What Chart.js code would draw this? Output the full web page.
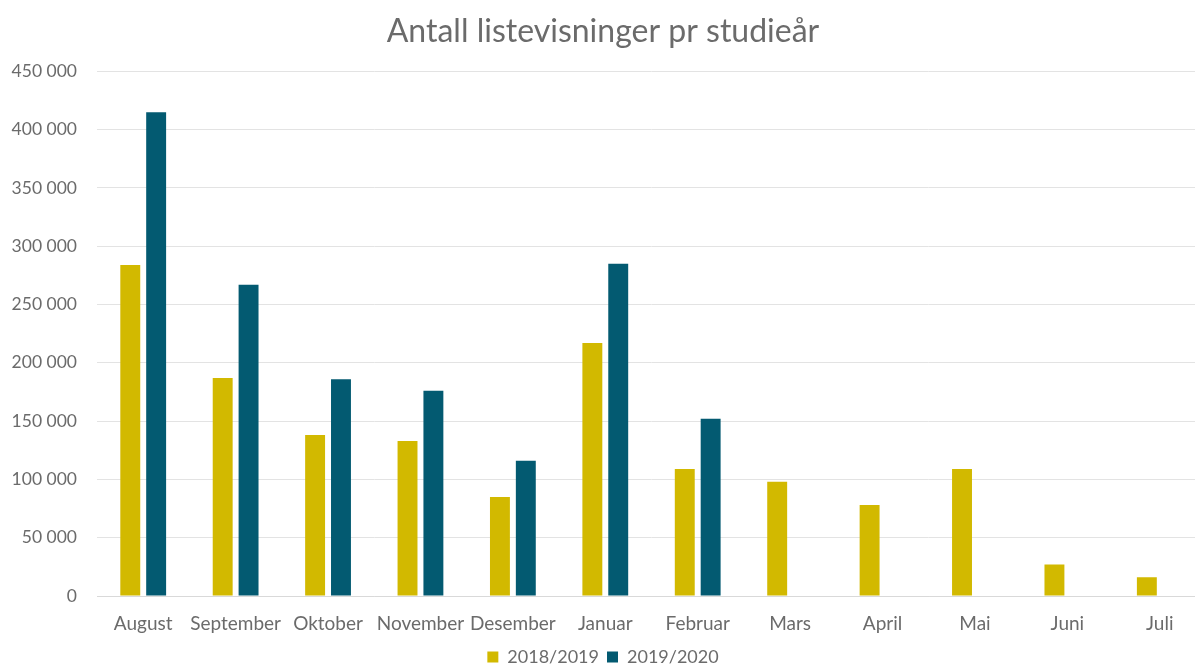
<!DOCTYPE html>
<html>
<head>
<meta charset="utf-8">
<script src="https://cdn.jsdelivr.net/npm/chart.js@4/dist/chart.umd.min.js"></script>
<style>
html,body{margin:0;padding:0;background:#fff;overflow:hidden;}
#wrap{width:1222px;height:676px;position:relative;}
</style>
</head>
<body>
<div id="wrap"><canvas id="c" width="1222" height="676"></canvas></div>
<script>
const categories = ["August","September","Oktober","November","Desember","Januar","Februar","Mars","April","Mai","Juni","Juli"];
const series2018 = [284000,187000,138000,133000,85000,217000,109000,98000,78000,109000,27000,16000];
const series2019 = [415000,267000,186000,176000,116000,285000,152000,null,null,null,null,null];
const seriesNames = ["2018/2019","2019/2020"];
const titleText = "Antall listevisninger pr studieår";

const fmt = v => String(v).replace(/\B(?=(\d{3})+(?!\d))/g, " ");
const FONT = "Lato, 'Open Sans', sans-serif";
const TXT = "#6b6b6b";

new Chart(document.getElementById("c"), {
  type: "bar",
  data: {
    labels: categories,
    datasets: [
      {label: seriesNames[0], data: series2018, backgroundColor: "#d2b900", categoryPercentage: 0.56, barPercentage: 0.77},
      {label: seriesNames[1], data: series2019, backgroundColor: "#035a71", categoryPercentage: 0.56, barPercentage: 0.77}
    ]
  },
  options: {
    responsive: false,
    animation: false,
    layout: {padding: {left: 0, right: 16, top: 0, bottom: 0}},
    plugins: {
      title: {display: true, text: titleText, color: TXT, font: {family: FONT, size: 32, weight: "normal"}, padding: {top: 12, bottom: 21}},
      legend: {position: "bottom", labels: {color: TXT, font: {family: FONT, size: 18}, boxWidth: 11, boxHeight: 11, padding: 8}},
      tooltip: {enabled: false}
    },
    scales: {
      x: {
        grid: {display: false, drawTicks: false},
        border: {display: true, color: "#d9d9d9"},
        ticks: {color: TXT, font: {family: FONT, size: 19}, padding: 16, maxRotation: 0, autoSkip: false},
        afterFit: s => { s.height = 44; }
      },
      y: {
        min: 0, max: 450000,
        ticks: {stepSize: 50000, color: TXT, font: {family: FONT, size: 17.5}, padding: 20, callback: v => fmt(v)},
        grid: {color: "#e3e3e3", drawTicks: false},
        border: {display: false},
        afterFit: s => { s.width = 97; }
      }
    }
  }
});
</script>
</body>
</html>
